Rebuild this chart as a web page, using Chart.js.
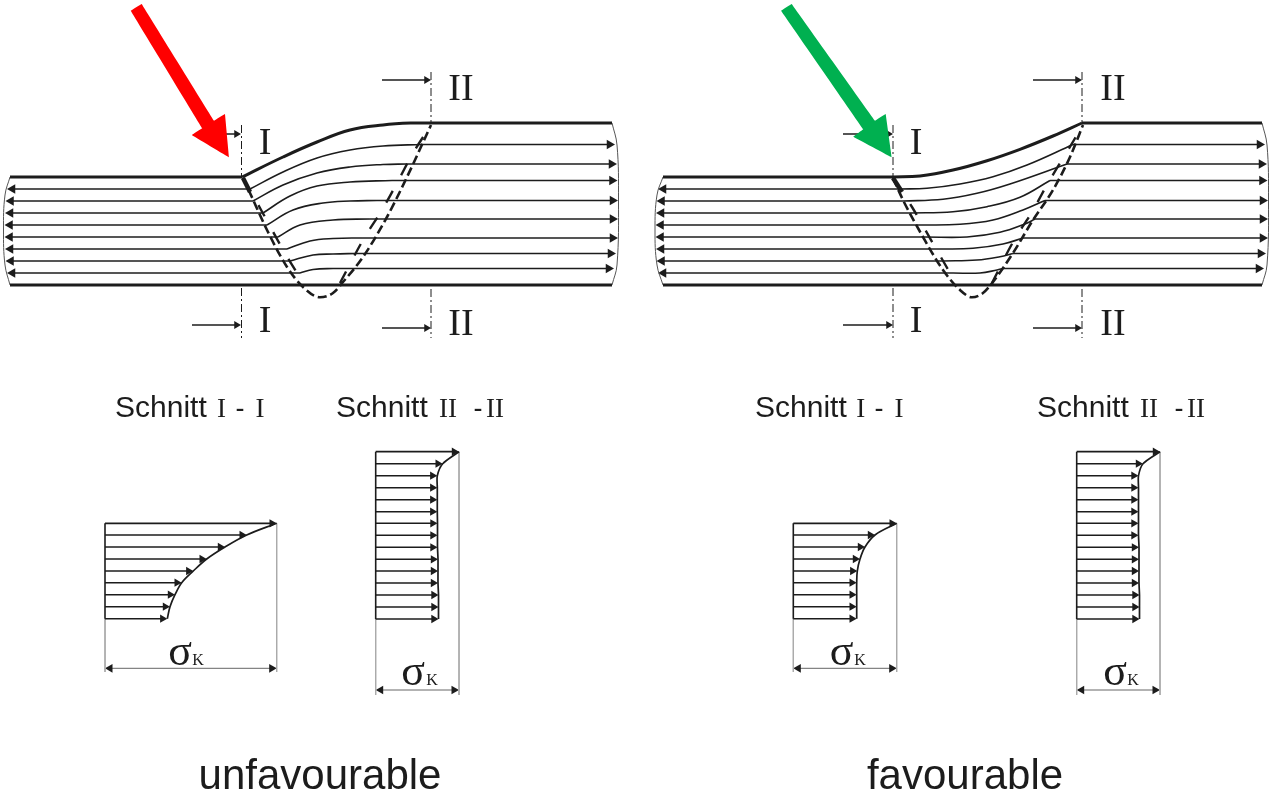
<!DOCTYPE html>
<html>
<head>
<meta charset="utf-8">
<title>unfavourable / favourable</title>
<script src="https://cdn.jsdelivr.net/npm/chart.js@4"></script>
<style>
  html, body { margin: 0; padding: 0; background: #fff; }
  #wrap { width: 1270px; height: 793px; }
</style>
</head>
<body>
<div id="wrap"><canvas id="diagram" width="1270" height="793"></canvas></div>
<script>
// flow lines, values (x, y in image pixels)
const rowsLeft = [189, 201, 213, 225, 237, 249, 261, 273];
const rowsRight = [144.5, 164, 180.5, 200.5, 219, 238, 253.5, 268.5];
const tipsLeftA = [7, 5.5, 5, 4.5, 4.5, 5, 5.5, 7];
const tipsRightA = [615, 617, 617.5, 618, 618, 618, 616, 614];
const tipsLeftB = [658, 656.5, 656, 655.5, 655.5, 656, 656.5, 658];
const tipsRightB = [1265, 1267, 1267.5, 1268, 1268, 1268, 1266, 1264];

const topA = [[242, 177], [283, 157], [317, 142], [350, 130], [383, 125], [413, 123], [432, 123]];
const topB = [[893, 177], [920, 176], [953, 170], [987, 160.7], [1020, 149.3], [1053, 136], [1082, 123]];
const platesFlat = [
  [[10, 177], [242, 177]], [[432, 123], [612, 123]], [[10, 285], [612, 285]],
  [[663, 177], [893, 177]], [[1082, 123], [1262, 123]], [[663, 285], [1262, 285]],
];

const streamsA = [
  [[250, 189], [283, 172], [317, 158], [350, 150], [383, 146], [422, 144.5]],
  [[253, 201], [283, 185], [317, 173], [350, 167], [383, 164.5], [407, 164]],
  [[263, 213], [290, 196], [317, 186], [350, 182], [392, 180.5]],
  [[267, 225], [293, 210], [323, 203], [350, 201], [377, 200.5]],
  [[278, 237], [300, 225], [333, 220], [370, 219]],
  [[287, 249], [310, 241], [333, 238.5], [363, 238]],
  [[290, 261], [313, 255], [333, 254], [357, 253.5]],
  [[300, 273], [313, 269.5], [333, 268.5], [347, 268.5]],
];
const streamsB = [
  [[900, 189], [927, 188.3], [960, 184], [993, 176.7], [1027, 165], [1073, 144.5]],
  [[903, 201], [943, 199.3], [977, 193.3], [1010, 184], [1067, 164]],
  [[910, 213], [953, 211.7], [987, 206.7], [1020, 197.3], [1050, 180.5]],
  [[917, 225], [960, 224.3], [993, 220], [1023, 210], [1045, 200.5]],
  [[925, 237], [967, 237], [1000, 232.3], [1025, 224], [1035, 219]],
  [[937, 249], [973, 248.3], [1003, 244], [1023, 238]],
  [[943, 261], [977, 260], [1000, 256.7], [1013, 253.5]],
  [[953, 273], [980, 273], [997, 270], [1003, 268.5]],
];

const outerA = [[243, 178], [250, 193], [267, 230], [287, 267], [303, 287], [320, 297.3], [333, 293], [343, 282], [363, 257], [387, 217], [407, 177], [431, 125]];
const innerA1 = [[243, 178], [260, 208], [282, 248], [300, 278]];
const innerA2 = [[340, 283], [363, 240], [382, 210], [397, 183], [413, 153], [431, 125]];
const outerB = [[893, 178], [903, 200], [923, 237], [943, 270], [960, 290], [972, 297.3], [983, 293], [993, 282], [1013, 253], [1033, 220], [1053, 190], [1070, 157], [1083, 125]];
const innerB1 = [[893, 178], [912, 207], [935, 247], [953, 278]];
const innerB2 = [[992, 283], [1013, 242], [1032, 212], [1048, 183], [1065, 155], [1083, 125]];

const edges = [
  [[10, 177], [5, 195], [3.5, 230], [5, 265], [10, 285]],
  [[612, 123], [617, 145], [618.5, 200], [617, 265], [612, 285]],
  [[663, 177], [657, 195], [655, 230], [657, 265], [663, 285]],
  [[1262, 123], [1267, 145], [1268.5, 200], [1267, 265], [1262, 285]],
];

// section marks: x, y from, y to
const cuts = [
  [241.5, 125, 177], [241.5, 288, 338], [431, 72, 123], [431, 289, 338],
  [893, 125, 177], [893, 288, 338], [1082, 72, 123], [1082, 289, 338],
];
// view arrows: x from, x to, y
const viewArrows = [
  [200, 240, 134], [192, 240, 325], [382, 430, 80], [382, 430, 328],
  [843, 892, 134], [843, 892, 325], [1033, 1081, 80], [1033, 1081, 328],
];

// stress profiles
const rowsShort = [523.3, 535, 547, 559, 571, 582.7, 594.7, 606.7, 618.7];
const rowsTall = [451.7, 463.7, 475.7, 487.7, 499.7, 511.7, 523.3, 535.3, 547.3, 559.3, 571, 583, 595, 607, 619];
const tipsSectionA1 = [276.7, 246.7, 225, 206.7, 193.3, 181.7, 175, 170, 167.3];
const tipsSectionA2 = [459, 442.7, 437.3, 437.3, 437.3, 437.3, 437.5, 437.5, 437.5, 438, 438, 438, 438.5, 438.5, 438.5];
const tipsSectionB1 = [896.7, 875, 865, 860, 857.3, 856.7, 856.7, 856.7, 856.7];
const tipsSectionB2 = [1160, 1143, 1138.5, 1138.5, 1138.5, 1138.5, 1138.5, 1138.5, 1139, 1139, 1139, 1139, 1139.5, 1139.5, 1139.5];
const sectionOrigins = [105, 375.7, 793.3, 1076.7];

const bigRed = [[130.7, 10.7], [141.7, 4], [214, 120.7], [225, 114], [229, 157.3], [191.7, 135], [202.3, 128.3], [130.7, 10.7]];
const bigGreen = [[781, 10.7], [791.7, 4], [875, 120.7], [885.7, 114], [891.7, 157.3], [853.3, 136.7], [863.3, 129.3], [781, 10.7]];

const ink = "#1c1c1c";
const datasets = [];

function add(points, opts) {
  datasets.push(Object.assign({
    data: points.map((p) => ({ x: p[0], y: p[1] })),
    showLine: true,
    borderColor: ink,
    borderWidth: 1.4,
    pointRadius: 0,
    fill: false,
  }, opts));
}

// line with arrow heads; the triangle is centred on its point so the tip is r further on
function arrow(points, headStart, headEnd, r, opts) {
  const last = points.length - 1;
  add(points, Object.assign({
    pointStyle: "triangle",
    pointBorderWidth: 0,
    pointBackgroundColor: ink,
    pointRadius: (c) => ((c.dataIndex === 0 && headStart) || (c.dataIndex === last && headEnd) ? r : 0),
    pointRotation: (c) => (c.dataIndex === 0 ? -90 : 90),
  }, opts));
}

// first dataset = drawn on top in Chart.js; tiny tension keeps the path from the fast x-merging draw
add(bigRed, { borderColor: "#ff0000", backgroundColor: "#ff0000", borderWidth: 0, fill: "shape", tension: 0.0001 });
add(bigGreen, { borderColor: "#00b050", backgroundColor: "#00b050", borderWidth: 0, fill: "shape", tension: 0.0001 });

viewArrows.forEach((a) => arrow([[a[0], a[2]], [a[1] - 3.5, a[2]]], false, true, 4.5, { borderWidth: 1.4 }));
cuts.forEach((c) => add([[c[0], c[1]], [c[0], c[2]]], { borderWidth: 1, borderDash: [8, 3, 2, 3] }));

[topA, topB].forEach((t) => add(t, { borderWidth: 3, tension: 0.4 }));
platesFlat.forEach((b) => add(b, { borderWidth: 3.2 }));
edges.forEach((e) => add(e, { borderWidth: 1, borderColor: "#555", tension: 0.4 }));

function flow(streams, tipsL, tipsR) {
  streams.forEach((s, i) => {
    const end = s[s.length - 1];
    arrow([[tipsL[i] + 5.5, rowsLeft[i]], s[0]], true, false, 5.5, { borderWidth: 1.7 });
    add(s, { borderWidth: 1.6, tension: 0.4 });
    arrow([end, [tipsR[i] - 5.5, rowsRight[i]]], false, true, 5.5, { borderWidth: 1.7 });
  });
}
flow(streamsA, tipsLeftA, tipsRightA);
flow(streamsB, tipsLeftB, tipsRightB);

[outerA, outerB].forEach((o) => add(o, { borderWidth: 2.6, borderDash: [9, 4], cubicInterpolationMode: "monotone" }));
[innerA1, innerA2, innerB1, innerB2].forEach((o) => add(o, { borderWidth: 2.4, borderDash: [13, 18], tension: 0.3 }));
add([[243, 178], [250, 192]], { borderWidth: 4.5 });
add([[893, 178], [902, 192]], { borderWidth: 4.5 });

function section(x0, rows, tips, bottomY, dimY, curve) {
  const maxTip = tips[0];
  rows.forEach((y, i) => arrow([[x0, y], [tips[i] - 4.8, y]], false, true, 4.8, { borderWidth: i === 0 ? 1.8 : 1.4 }));
  add([[x0, rows[0]], [x0, rows[rows.length - 1]]], { borderWidth: 1.6 });
  add(tips.map((t, i) => [t, rows[i]]), { borderWidth: 1.7, tension: curve });
  add([[x0, rows[rows.length - 1]], [x0, bottomY]], { borderWidth: 1, borderColor: "#aaa" });
  add([[maxTip, rows[0]], [maxTip, bottomY]], { borderWidth: 1, borderColor: "#aaa" });
  arrow([[x0 + 5, dimY], [maxTip - 5, dimY]], true, true, 5, { borderWidth: 1, borderColor: "#666" });
}
section(sectionOrigins[0], rowsShort, tipsSectionA1, 672, 668.3, 0.35);
section(sectionOrigins[1], rowsTall, tipsSectionA2, 695, 690, 0.25);
section(sectionOrigins[2], rowsShort, tipsSectionB1, 672, 668.3, 0.35);
section(sectionOrigins[3], rowsTall, tipsSectionB2, 695, 690, 0.25);

const sans = "'Liberation Sans', Arial, sans-serif";
const serif = "'Liberation Serif', 'Times New Roman', serif";
// text, x, y (baseline), align, font
const labels = [
  ["I", 265, 154, "center", "38px " + serif], ["II", 461, 100, "center", "38px " + serif],
  ["I", 265, 332, "center", "38px " + serif], ["II", 461, 335, "center", "38px " + serif],
  ["I", 916, 154, "center", "38px " + serif], ["II", 1113, 100, "center", "38px " + serif],
  ["I", 916, 332, "center", "38px " + serif], ["II", 1113, 335, "center", "38px " + serif],

  ["Schnitt", 115, 417, "left", "30px " + sans], ["I", 221.5, 417, "center", "27px " + serif],
  ["-", 240, 417, "center", "27px " + sans], ["I", 260, 417, "center", "27px " + serif],
  ["Schnitt", 336, 417, "left", "30px " + sans], ["II", 448, 417, "center", "27px " + serif],
  ["-", 478, 417, "center", "27px " + sans], ["II", 495, 417, "center", "27px " + serif],
  ["Schnitt", 755, 417, "left", "30px " + sans], ["I", 860.7, 417, "center", "27px " + serif],
  ["-", 879, 417, "center", "27px " + sans], ["I", 899, 417, "center", "27px " + serif],
  ["Schnitt", 1037, 417, "left", "30px " + sans], ["II", 1149, 417, "center", "27px " + serif],
  ["-", 1179, 417, "center", "27px " + sans], ["II", 1196, 417, "center", "27px " + serif],

  ["σ", 180, 665, "center", "44px " + serif], ["K", 198, 665, "center", "16px " + serif],
  ["σ", 413, 685, "center", "44px " + serif], ["K", 432, 685, "center", "16px " + serif],
  ["σ", 841.7, 665, "center", "44px " + serif], ["K", 860, 665, "center", "16px " + serif],
  ["σ", 1115, 685, "center", "44px " + serif], ["K", 1133, 685, "center", "16px " + serif],

  ["unfavourable", 320, 789, "center", "42px " + sans],
  ["favourable", 965, 789, "center", "42px " + sans],
];

const textPlugin = {
  id: "textPlugin",
  afterDatasetsDraw(chart) {
    const ctx = chart.ctx;
    ctx.save();
    ctx.fillStyle = ink;
    ctx.textBaseline = "alphabetic";
    labels.forEach((l) => {
      ctx.font = l[4];
      ctx.textAlign = l[3];
      ctx.fillText(l[0], chart.scales.x.getPixelForValue(l[1]), chart.scales.y.getPixelForValue(l[2]));
    });
    ctx.restore();
  },
};

new Chart(document.getElementById("diagram"), {
  type: "scatter",
  data: { datasets: datasets },
  options: {
    responsive: false,
    animation: false,
    events: [],
    layout: { padding: 0, autoPadding: false },
    plugins: { legend: { display: false }, tooltip: { enabled: false } },
    scales: {
      x: { type: "linear", min: 0, max: 1270, display: false },
      y: { type: "linear", min: 0, max: 793, reverse: true, display: false },
    },
  },
  plugins: [textPlugin],
});
</script>
</body>
</html>
